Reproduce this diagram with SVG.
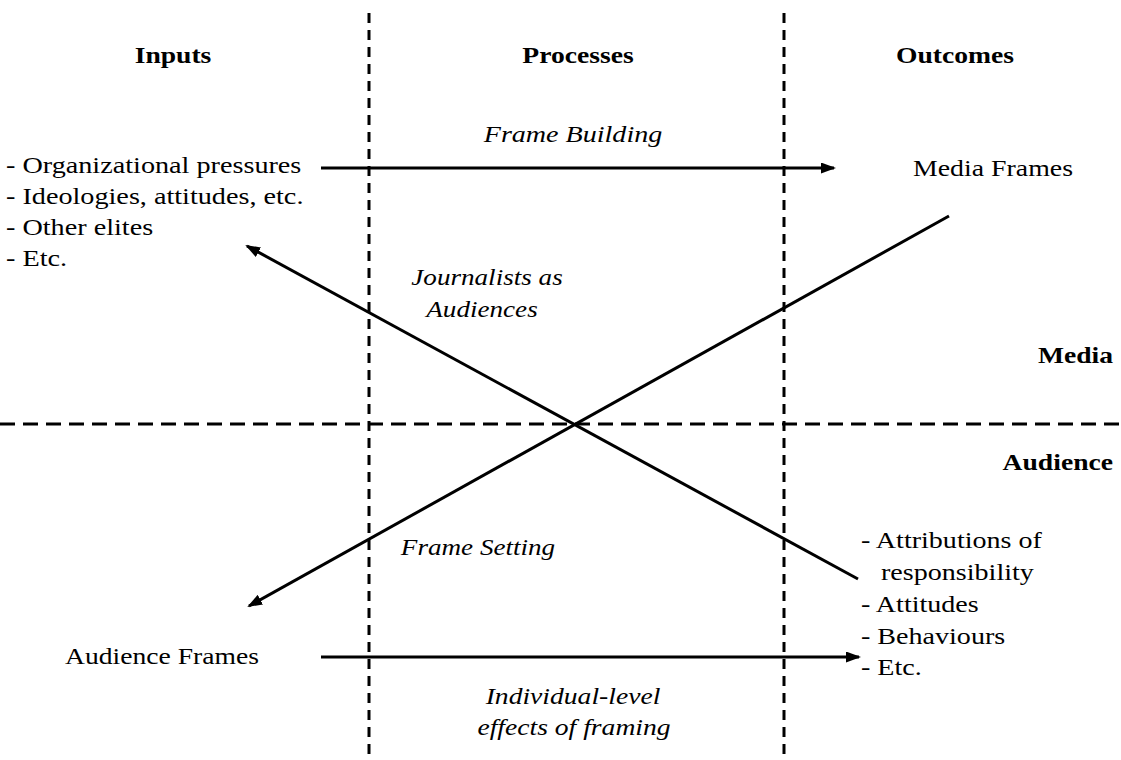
<svg xmlns="http://www.w3.org/2000/svg" width="1121" height="760" viewBox="0 0 1121 760">
<style>
text{font-family:"Liberation Serif","Times New Roman",serif;fill:#000;font-size:24px;}
.h{font-weight:bold;}
.i{font-style:italic;}
.c{text-anchor:middle;}
.dv{stroke:#000;stroke-width:3;stroke-dasharray:10 7;fill:none;}
.dh{stroke:#000;stroke-width:3;stroke-dasharray:15 8;fill:none;}
.ar{stroke:#000;stroke-width:3;fill:none;marker-end:url(#ah);}
</style>
<defs>
<marker id="ah" markerUnits="userSpaceOnUse" markerWidth="16" markerHeight="12" refX="13" refY="5.5" orient="auto">
<path d="M0,0 L15,5.5 L0,11 Z" fill="#000"/>
</marker>
</defs>
<rect width="1121" height="760" fill="#fff"/>
<g id="grid">
<line class="dv" x1="369" y1="13" x2="369" y2="760"/>
<line class="dv" x1="784" y1="13" x2="784" y2="760"/>
<line class="dh" x1="0" y1="424" x2="1121" y2="424"/>
</g>
<g id="headers">
<text class="h c" transform="translate(173,63) scale(1.15,1)">Inputs</text>
<text class="h c" transform="translate(578,63) scale(1.15,1)">Processes</text>
<text class="h c" transform="translate(955,63) scale(1.15,1)">Outcomes</text>
<text class="h" text-anchor="end" transform="translate(1113,363) scale(1.15,1)">Media</text>
<text class="h" text-anchor="end" transform="translate(1113,470) scale(1.15,1)">Audience</text>
</g>
<g id="inputs-media">
<text transform="translate(6,173) scale(1.175,1)">- Organizational pressures</text>
<text transform="translate(6,204) scale(1.175,1)">- Ideologies, attitudes, etc.</text>
<text transform="translate(6,235) scale(1.175,1)">- Other elites</text>
<text transform="translate(6,266) scale(1.175,1)">- Etc.</text>
</g>
<g id="media-frames">
<text transform="translate(913,176) scale(1.16,1)">Media Frames</text>
</g>
<g id="audience-frames">
<text transform="translate(65,664) scale(1.15,1)">Audience Frames</text>
</g>
<g id="outcomes-audience">
<text transform="translate(861,548) scale(1.17,1)">- Attributions of</text>
<text transform="translate(881,580) scale(1.17,1)">responsibility</text>
<text transform="translate(861,612) scale(1.17,1)">- Attitudes</text>
<text transform="translate(861,644) scale(1.17,1)">- Behaviours</text>
<text transform="translate(861,675) scale(1.17,1)">- Etc.</text>
</g>
<g id="connectors">
<line class="ar" x1="321" y1="168" x2="834" y2="168"/>
<line class="ar" x1="321" y1="657" x2="859" y2="657"/>
<line class="ar" x1="858" y1="579" x2="247" y2="246"/>
<line class="ar" x1="949" y1="216" x2="249" y2="606"/>
</g>
<g id="process-labels">
<text class="i c" transform="translate(573,142) scale(1.17,1)">Frame Building</text>
<text class="i c" transform="translate(487,285) scale(1.13,1)">Journalists as</text>
<text class="i c" transform="translate(482,317) scale(1.13,1)">Audiences</text>
<text class="i c" transform="translate(478,555) scale(1.13,1)">Frame Setting</text>
<text class="i c" transform="translate(573,704) scale(1.15,1)">Individual-level</text>
<text class="i c" transform="translate(574,735) scale(1.15,1)">effects of framing</text>
</g>
</svg>
